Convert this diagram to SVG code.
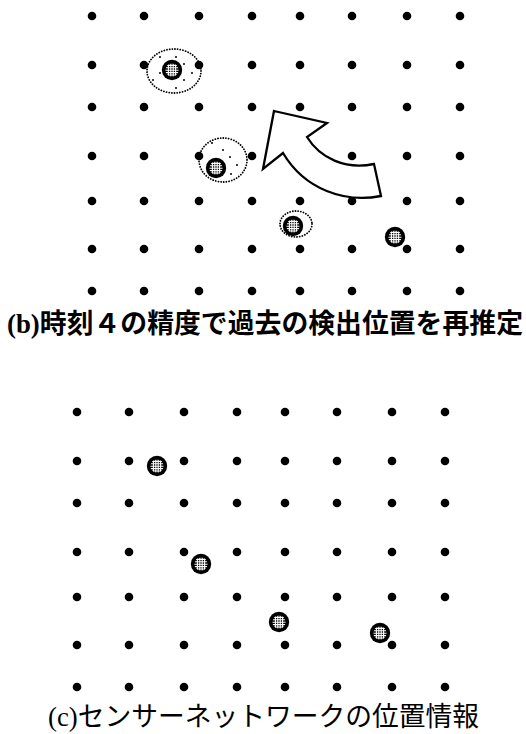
<svg xmlns="http://www.w3.org/2000/svg" xmlns:xlink="http://www.w3.org/1999/xlink" width="526" height="734" viewBox="0 0 526 734">
  <style>
    .dot { fill: #000; }
    .ring { fill: none; stroke: #000; stroke-width: 1.8; stroke-dasharray: 0.1 2.6; stroke-linecap: round; }
    .spk { fill: #000; }
    .cap { font-family: "Liberation Serif", "Noto Sans CJK JP", serif; fill: #000; }
    .arrow { fill: #fff; stroke: #000; stroke-width: 2.3; stroke-linejoin: miter; }
  </style>
  <defs>
    <clipPath id="tclip" clipPathUnits="userSpaceOnUse">
      <circle cx="0" cy="0" r="6.6"/>
    </clipPath>
    <g id="target">
      <circle cx="0" cy="0" r="10.2" fill="#000"/>
      <g clip-path="url(#tclip)" stroke="#fff" stroke-width="1.1">
        <line x1="-3.6" y1="-8" x2="-3.6" y2="8"/>
        <line x1="-1.2" y1="-8" x2="-1.2" y2="8"/>
        <line x1="1.2" y1="-8" x2="1.2" y2="8"/>
        <line x1="3.6" y1="-8" x2="3.6" y2="8"/>
        <line x1="-8" y1="-4.6" x2="8" y2="-4.6"/>
        <line x1="-8" y1="-2.2" x2="8" y2="-2.2"/>
        <line x1="-8" y1="0.2" x2="8" y2="0.2"/>
        <line x1="-8" y1="2.6" x2="8" y2="2.6"/>
        <line x1="-8" y1="5" x2="8" y2="5"/>
      </g>
    </g>
    <g id="grid">
      <g class="dot">
        <circle cx="92" cy="16" r="4.3"/><circle cx="144" cy="16" r="4.3"/><circle cx="199" cy="16" r="4.3"/><circle cx="252" cy="16" r="4.3"/><circle cx="300" cy="16" r="4.3"/><circle cx="352" cy="16" r="4.3"/><circle cx="407" cy="16" r="4.3"/><circle cx="460" cy="16" r="4.3"/>
        <circle cx="92" cy="65" r="4.3"/><circle cx="144" cy="65" r="4.3"/><circle cx="199" cy="65" r="4.3"/><circle cx="252" cy="65" r="4.3"/><circle cx="300" cy="65" r="4.3"/><circle cx="352" cy="65" r="4.3"/><circle cx="407" cy="65" r="4.3"/><circle cx="460" cy="65" r="4.3"/>
        <circle cx="92" cy="107" r="4.3"/><circle cx="144" cy="107" r="4.3"/><circle cx="199" cy="107" r="4.3"/><circle cx="252" cy="107" r="4.3"/><circle cx="300" cy="107" r="4.3"/><circle cx="352" cy="107" r="4.3"/><circle cx="407" cy="107" r="4.3"/><circle cx="460" cy="107" r="4.3"/>
        <circle cx="92" cy="156" r="4.3"/><circle cx="144" cy="156" r="4.3"/><circle cx="199" cy="156" r="4.3"/><circle cx="252" cy="156" r="4.3"/><circle cx="300" cy="156" r="4.3"/><circle cx="352" cy="156" r="4.3"/><circle cx="407" cy="156" r="4.3"/><circle cx="460" cy="156" r="4.3"/>
        <circle cx="92" cy="201" r="4.3"/><circle cx="144" cy="201" r="4.3"/><circle cx="199" cy="201" r="4.3"/><circle cx="252" cy="201" r="4.3"/><circle cx="300" cy="201" r="4.3"/><circle cx="352" cy="201" r="4.3"/><circle cx="407" cy="201" r="4.3"/><circle cx="460" cy="201" r="4.3"/>
        <circle cx="92" cy="249" r="4.3"/><circle cx="144" cy="249" r="4.3"/><circle cx="199" cy="249" r="4.3"/><circle cx="252" cy="249" r="4.3"/><circle cx="300" cy="249" r="4.3"/><circle cx="352" cy="249" r="4.3"/><circle cx="407" cy="249" r="4.3"/><circle cx="460" cy="249" r="4.3"/>
        <circle cx="92" cy="291" r="4.3"/><circle cx="144" cy="291" r="4.3"/><circle cx="199" cy="291" r="4.3"/><circle cx="252" cy="291" r="4.3"/><circle cx="300" cy="291" r="4.3"/><circle cx="352" cy="291" r="4.3"/><circle cx="407" cy="291" r="4.3"/><circle cx="460" cy="291" r="4.3"/>
      </g>
    </g>
  </defs>

  <!-- Panel (b) -->
  <g id="panel-b">
    <use id="grid-b" xlink:href="#grid" href="#grid"/>

    <g id="estimate-1">
      <ellipse class="ring" cx="174" cy="71" rx="27" ry="22"/>
      <g class="spk">
        <circle cx="160" cy="57" r="1"/><circle cx="176" cy="57" r="1"/><circle cx="184" cy="64" r="1"/>
        <circle cx="192" cy="73" r="1"/><circle cx="184" cy="80" r="1"/><circle cx="176" cy="88" r="1"/>
        <circle cx="160" cy="73" r="1"/><circle cx="153" cy="80" r="1"/>
      </g>
      <use xlink:href="#target" href="#target" x="172" y="70"/>
    </g>

    <g id="estimate-2">
      <ellipse class="ring" cx="223" cy="160" rx="24" ry="22"/>
      <g class="spk">
        <circle cx="212" cy="143" r="1"/><circle cx="223" cy="150" r="1"/><circle cx="230" cy="157" r="1"/>
        <circle cx="237" cy="165" r="1"/><circle cx="231" cy="174" r="1"/>
      </g>
      <use xlink:href="#target" href="#target" x="216" y="168"/>
    </g>

    <g id="estimate-3">
      <ellipse class="ring" cx="296" cy="224" rx="16" ry="13"/>
      <use xlink:href="#target" href="#target" x="293" y="226"/>
    </g>

    <g id="estimate-4">
      <use xlink:href="#target" href="#target" x="395" y="237"/>
    </g>

    <g id="arrow">
      <path class="arrow" d="M 274,111 L 327,123 L 307,137 C 320,158 345,170 374,164 L 381,196 C 345,203 305,190 283,153 L 263,169 Z"/>
    </g>

    <text id="caption-b" class="cap" x="7" y="333" font-size="27" font-weight="bold" textLength="516" lengthAdjust="spacingAndGlyphs">(b)時刻４の精度で過去の検出位置を再推定</text>
  </g>

  <!-- Panel (c) -->
  <g id="panel-c">
    <use id="grid-c" xlink:href="#grid" href="#grid" x="-15" y="396"/>
    <g id="position-1"><use xlink:href="#target" href="#target" x="157" y="466"/></g>
    <g id="position-2"><use xlink:href="#target" href="#target" x="201" y="564"/></g>
    <g id="position-3"><use xlink:href="#target" href="#target" x="279" y="622"/></g>
    <g id="position-4"><use xlink:href="#target" href="#target" x="380" y="633"/></g>
    <text id="caption-c" class="cap" x="48" y="726" font-size="27" textLength="431" lengthAdjust="spacingAndGlyphs">(c)センサーネットワークの位置情報</text>
  </g>
</svg>
